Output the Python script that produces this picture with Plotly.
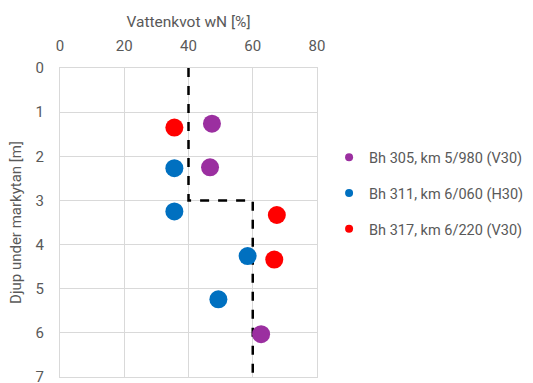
import plotly.graph_objects as go

dash_x = [40, 40, 60, 60]
dash_y = [0, 3, 3, 7]

bh305_x = [47.3, 46.7, 62.6]
bh305_y = [1.26, 2.25, 6.03]
bh311_x = [35.6, 35.6, 58.4, 49.3]
bh311_y = [2.27, 3.25, 4.26, 5.24]
bh317_x = [35.6, 67.5, 66.7]
bh317_y = [1.35, 3.33, 4.34]

names = ["Bh 305, km 5/980 (V30)", "Bh 311, km 6/060 (H30)", "Bh 317, km 6/220 (V30)"]
colors = ["#9B2FA0", "#0070C0", "#FF0000"]
xs = [bh305_x, bh311_x, bh317_x]
ys = [bh305_y, bh311_y, bh317_y]

fig = go.Figure()
fig.add_trace(go.Scatter(x=dash_x, y=dash_y, mode="lines",
                         line=dict(color="black", width=2.5, dash="dash"),
                         showlegend=False, hoverinfo="skip"))
for x, y, n, c in zip(xs, ys, names, colors):
    fig.add_trace(go.Scatter(x=x, y=y, mode="markers", name=n,
                             marker=dict(color=c, size=18), showlegend=False))
for n, c in zip(names, colors):
    fig.add_trace(go.Scatter(x=[None], y=[None], mode="markers", name=n,
                             legendgroup=n,
                             marker=dict(color=c, size=8)))

font = "Roboto"
fig.update_layout(
    width=533, height=383,
    margin=dict(l=60, r=216, t=68, b=6, autoexpand=False),
    paper_bgcolor="white", plot_bgcolor="white",
    font=dict(family=font, color="#595959", size=15),
    legend=dict(x=1.047, y=0.763, xanchor="left", yanchor="top",
                tracegroupgap=14, font=dict(size=14.5, color="#595959"),
                itemwidth=30),
    showlegend=True,
)
fig.update_xaxes(side="top", range=[0, 80], tickvals=[0, 20, 40, 60, 80],
                 showgrid=True, gridcolor="#D9D9D9", gridwidth=1,
                 showline=True, linecolor="#D9D9D9", mirror=True,
                 zeroline=False, ticks="", tickfont=dict(size=15),
                 ticklabelstandoff=10, automargin=False,
                 title=dict(text="Vattenkvot wN [%]", font=dict(size=15.5), standoff=5))
fig.update_yaxes(range=[7.001, -0.001], tickvals=list(range(8)),
                 showgrid=True, gridcolor="#D9D9D9", gridwidth=1,
                 showline=True, linecolor="#D9D9D9", mirror=True,
                 zeroline=False, ticks="", tickfont=dict(size=15),
                 ticklabelstandoff=12, ticklabeloverflow="allow", automargin=False,
                 title=dict(text="Djup under markytan [m]", font=dict(size=15), standoff=10))

fig.write_html("out.html", config={"displayModeBar": False},
               post_script="document.body.style.margin='0';")
